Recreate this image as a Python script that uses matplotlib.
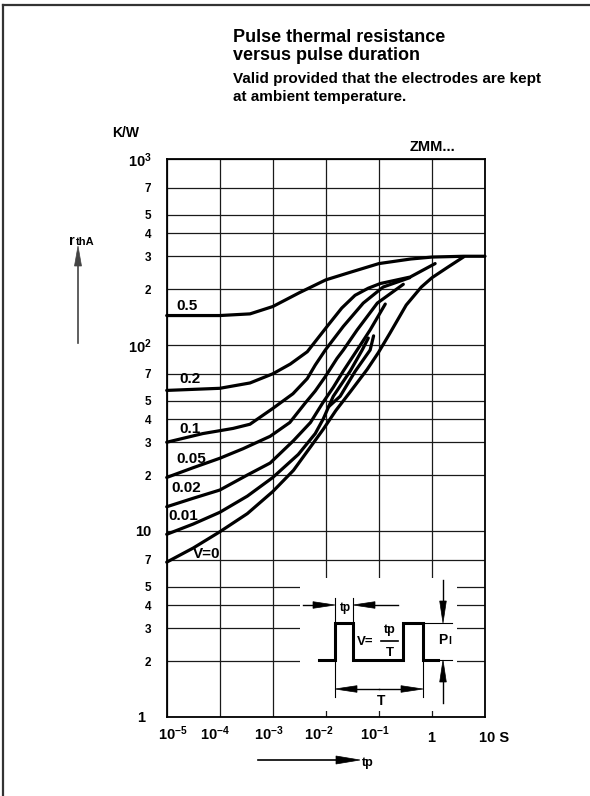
import numpy as np
import matplotlib
matplotlib.use('Agg')
import matplotlib.pyplot as plt
from matplotlib.patches import Polygon, Rectangle
from matplotlib.ticker import NullLocator
from matplotlib.transforms import ScaledTranslation

plt.rcParams['font.family'] = ['Liberation Sans', 'DejaVu Sans']
plt.rcParams['font.weight'] = 'bold'
plt.rcParams['mathtext.fontset'] = 'custom'
plt.rcParams['mathtext.rm'] = 'Liberation Sans:bold'
plt.rcParams['mathtext.bf'] = 'Liberation Sans:bold'
plt.rcParams['mathtext.it'] = 'Liberation Sans:bold'
plt.rcParams['mathtext.default'] = 'rm'

# ---------------- data (log10 of pulse duration in s, r_thA in K/W) ----------------
curve_labels = ['0.5', '0.2', '0.1', '0.05', '0.02', '0.01', 'V=0', '']

lt_05 = [-5, -4, -3.43, -3, -2.5, -2, -1.54, -1, -0.4, 0, 0.6, 1]
r_05 = [144, 144, 147, 161, 191, 224, 246, 274, 290, 297, 300, 300]

lt_02 = [-5, -4, -3.43, -3, -2.67, -2.35, -1.975, -1.7, -1.45, -1.2, -0.975, -0.41, 0.06]
r_02 = [57, 58.5, 62.5, 70, 79, 92, 126, 158, 185, 202, 214, 232, 274]

lt_01 = [-5, -4.32, -3.75, -3.43, -3, -2.62, -2.35, -2.2, -2.01, -1.67, -1.295, -0.92, -0.42]
r_01 = [30, 33.4, 35.6, 37.5, 45.6, 54.7, 66, 78, 94, 126, 168, 205, 230]

lt_005 = [-5, -4.5, -4, -3.56, -3.05, -2.68, -2.39, -2.2, -2.01, -1.79, -1.67, -1.41, -1.03, -0.54]
r_005 = [19.4, 21.9, 24.6, 27.7, 32.3, 38.3, 48.7, 56.6, 67.6, 84.7, 94, 120.5, 168, 212]

lt_002 = [-5, -4.5, -4, -3.48, -3.05, -2.61, -2.29, -2.05, -1.86, -1.67, -1.41, -1.165, -0.88]
r_002 = [13.5, 15, 16.6, 20, 23.2, 30.6, 38.3, 49.3, 59.2, 72.5, 94, 120.5, 166]

lt_001 = [-5, -4.5, -4, -3.48, -3, -2.52, -2.2, -2.05, -1.86, -1.54, -1.315, -1.2]
r_001 = [9.6, 10.9, 12.6, 15.4, 19.4, 25.8, 33.4, 40, 53, 72.5, 94, 109]

lt_0 = [-5, -4.5, -4, -3.48, -3, -2.61, -2.29, -2.05, -1.81, -1.54, -1.22, -1.01, -0.79, -0.485, -0.2, 0.0, 0.29, 0.6]
r_0 = [6.8, 8.1, 9.9, 12.4, 16.3, 21.2, 28.3, 35.2, 44.5, 56, 74, 91, 116, 164, 205, 230, 261, 298]

# short unlabelled stroke between the 0.01 and V=0 curves
lt_x = [-1.95, -1.73, -1.45, -1.165, -1.10]
r_x = [46.5, 53, 72, 94, 112]

curves_lt = [lt_05, lt_02, lt_01, lt_005, lt_002, lt_001, lt_0, lt_x]
curves_r = [r_05, r_02, r_01, r_005, r_002, r_001, r_0, r_x]

# label anchor points (log10 t, r)
label_lt = [-4.81, -4.77, -4.77, -4.82, -4.92, -4.975, -4.50]
label_r = [163, 65.5, 35.2, 24.3, 17.1, 12.1, 7.5]

x_ticks = [1e-5, 1e-4, 1e-3, 1e-2, 1e-1, 1, 10]
x_tick_labels = [r'$10^{-5}$', r'$10^{-4}$', r'$10^{-3}$', r'$10^{-2}$', r'$10^{-1}$', '1', '10 S']

y_ticks = [1, 2, 3, 4, 5, 7, 10, 20, 30, 40, 50, 70, 100, 200, 300, 400, 500, 700, 1000]
y_tick_labels = ['1', '2', '3', '4', '5', '7', '10', '2', '3', '4', '5', '7', r'$10^2$',
                 '2', '3', '4', '5', '7', r'$10^3$']
y_major = {'1', '10', r'$10^2$', r'$10^3$'}

# ---------------- figure ----------------
W, H = 590, 796
fig = plt.figure(figsize=(W / 100, H / 100), dpi=100)
L, R, T, B = 166.7, 485, 159, 717
ax = fig.add_axes([L / W, 1 - B / H, (R - L) / W, (B - T) / H])
ax.set_xscale('log')
ax.set_yscale('log')
ax.set_xlim(1e-5, 10)
ax.set_ylim(1, 1000)
ax.set_xticks(x_ticks)
ax.set_xticklabels([])
ax.xaxis.set_minor_locator(NullLocator())
ax.set_yticks(y_ticks)
ax.set_yticklabels(y_tick_labels)
ax.yaxis.set_minor_locator(NullLocator())
ax.tick_params(length=0, pad=11)
for lab, txt in zip(ax.get_yticklabels(), y_tick_labels):
    lab.set_fontsize(10.5 if txt in y_major else 8.5)
    lab.set_fontweight('bold')
one = ax.get_yticklabels()[0]
one.set_transform(one.get_transform() + ScaledTranslation(-0.06, 0, fig.dpi_scale_trans))
ax.grid(True, color='#1a1a1a', lw=0.9)
for s in ax.spines.values():
    s.set_linewidth(1.3)
    s.set_color('black')

for lt, r in zip(curves_lt, curves_r):
    ax.plot(10 ** np.array(lt), r, color='black', lw=2.3,
            solid_joinstyle='round', solid_capstyle='round', clip_on=False, zorder=3)

for lbl, lx, ly in zip(curve_labels, label_lt, label_r):
    ax.text(10 ** lx, ly, lbl, fontsize=11, ha='left', va='center', zorder=4)

x_dx = [6, -5, -4, -7, -4, -1, 9]
x_dy = [-17, -17, -17, -17, -17, -21, -21]
for t, lbl, dx, dy in zip(x_ticks, x_tick_labels, x_dx, x_dy):
    ax.annotate(lbl, xy=(t, 0), xycoords=('data', 'axes fraction'),
                xytext=(dx, dy), textcoords='offset pixels',
                ha='center', va='center', fontsize=10.5)

# ---------------- overlay in pixel coordinates ----------------
ov = fig.add_axes([0, 0, 1, 1], zorder=5)
ov.set_xlim(0, W)
ov.set_ylim(H, 0)
ov.axis('off')


def arrow(x0, y0, x1, y1, hl, hw, lw=1.0, color='black'):
    tip = np.array([x1, y1], float)
    d = tip - np.array([x0, y0], float)
    u = d / np.hypot(*d)
    n = np.array([-u[1], u[0]])
    base = tip - u * hl
    ov.plot([x0, base[0]], [y0, base[1]], color=color, lw=lw)
    ov.add_patch(Polygon([tip, base + n * hw, base - n * hw], closed=True,
                         fc=color, ec=color, lw=0.5))


# border
ov.plot([3, W], [4.5, 4.5], color='#333333', lw=1.6, clip_on=False)
ov.plot([3, 3], [4.5, H], color='#333333', lw=1.6, clip_on=False)

# titles
ov.text(233, 37, 'Pulse thermal resistance', fontsize=13, va='center', ha='left')
ov.text(233, 56, 'versus pulse duration', fontsize=13, va='center', ha='left')
ov.text(233, 79, 'Valid provided that the electrodes are kept', fontsize=11, va='center', ha='left')
ov.text(233, 97, 'at ambient temperature.', fontsize=11, va='center', ha='left')
ov.text(112, 133, 'K/W', fontsize=10, va='center', ha='left')
ov.text(410, 147, 'ZMM...', fontsize=10.5, va='center', ha='left')

# y axis quantity
ov.text(69, 241, 'r', fontsize=10.5, va='center', ha='left')
ov.text(76, 242, 'thA', fontsize=8, va='center', ha='left')
arrow(78, 343, 78, 246, 20, 3.5, lw=1.2, color='#444444')

# x axis quantity
arrow(258, 760, 360, 760, 24, 4, lw=1.2)
ov.text(362, 763, 'tp', fontsize=9, va='center', ha='left')

# inset schematic
ov.add_patch(Rectangle((300, 578), 157, 133, fc='white', ec='none'))
ov.plot([319, 335, 335, 353, 353, 403, 403, 423, 423, 438],
        [660, 660, 623, 623, 660, 660, 623, 623, 660, 660],
        color='black', lw=2.2, solid_joinstyle='miter')
# tp dimension
arrow(303, 605, 335, 605, 22, 3.3)
arrow(398, 605, 353, 605, 22, 3.3)
ov.plot([335, 335], [598, 623], color='black', lw=0.8)
ov.plot([353, 353], [598, 623], color='black', lw=0.8)
ov.text(345.5, 608, 'tp', fontsize=8.5, ha='center', va='center')
# V = tp / T
ov.text(357, 642, 'V=', fontsize=9.5, ha='left', va='center')
ov.text(390, 630, 'tp', fontsize=9, ha='center', va='center')
ov.plot([381, 398], [641, 641], color='black', lw=1.2)
ov.text(390, 653, 'T', fontsize=9.5, ha='center', va='center')
# T dimension
arrow(379, 689, 335, 689, 22, 3.3)
arrow(379, 689, 423, 689, 22, 3.3)
ov.plot([335, 335], [660, 697], color='black', lw=0.8)
ov.plot([423, 423], [660, 697], color='black', lw=0.8)
ov.text(381, 701, 'T', fontsize=10, ha='center', va='center')
# P dimension
arrow(443, 580, 443, 623, 22, 3.3)
arrow(443, 703, 443, 660, 22, 3.3)
ov.plot([423, 452], [623, 623], color='black', lw=0.8)
ov.plot([438, 452], [660, 660], color='black', lw=0.8)
ov.text(438, 640, 'P', fontsize=10, ha='left', va='center')
ov.text(448.5, 641, 'I', fontsize=7.5, ha='left', va='center')

fig.savefig('out.png', dpi=100)
